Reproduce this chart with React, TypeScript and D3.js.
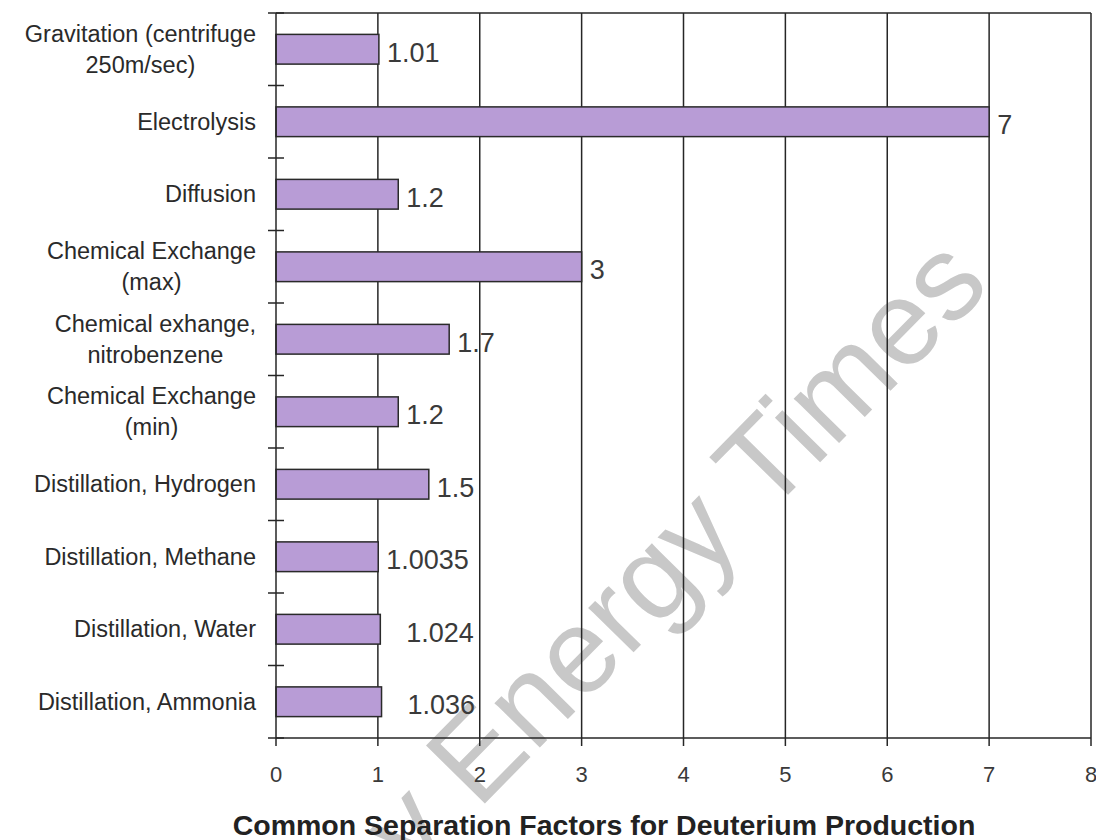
import React, { useEffect, useRef } from "react";
import * as d3 from "d3";

const categories = [
  "Gravitation (centrifuge\n250m/sec)",
  "Electrolysis",
  "Diffusion",
  "Chemical Exchange\n(max)",
  "Chemical exhange,\nnitrobenzene",
  "Chemical Exchange\n(min)",
  "Distillation, Hydrogen",
  "Distillation, Methane",
  "Distillation, Water",
  "Distillation, Ammonia",
];
const values = [1.01, 7, 1.2, 3, 1.7, 1.2, 1.5, 1.0035, 1.024, 1.036];
const valueLabels = ["1.01", "7", "1.2", "3", "1.7", "1.2", "1.5", "1.0035", "1.024", "1.036"];
const xTicks = [0, 1, 2, 3, 4, 5, 6, 7, 8];
const titleText = "Common Separation Factors for Deuterium Production";
const watermarkText = "by Energy Times";

// extra horizontal offset of some value labels (layout only)
const labelExtraShift = [0, 0, 0, 0, 0, 0, 0, 0, 18, 18];

const W = 1096;
const H = 840;
const FONT = "'Liberation Sans', Arial, sans-serif";

export default function App() {
  const ref = useRef<SVGSVGElement | null>(null);

  useEffect(() => {
    document.body.style.margin = "0";
    const svg = d3.select(ref.current);
    svg.selectAll("*").remove();

    const left = 276, right = 1091, top = 13, bottom = 738;
    const x = d3.scaleLinear().domain([0, 8]).range([left, right]);
    const y = d3
      .scaleBand<string>()
      .domain(categories)
      .range([top, bottom])
      .paddingInner(0.59)
      .paddingOuter(0.295);
    const step = y.step();
    const line = "#262626";

    svg.append("rect").attr("width", W).attr("height", H).attr("fill", "#fff");

    // watermark
    svg
      .append("text")
      .attr("transform", "translate(679,606) rotate(-45.5)")
      .attr("text-anchor", "middle")
      .attr("font-family", FONT)
      .attr("font-size", 120)
      .attr("fill", "#c8c8c8")
      .text(watermarkText);

    // top border
    svg.append("line").attr("x1", left).attr("x2", right).attr("y1", top).attr("y2", top)
      .attr("stroke", line).attr("stroke-width", 1.5);

    // vertical gridlines
    svg.append("g").selectAll("line").data(xTicks.filter((t) => t > 0)).join("line")
      .attr("x1", (d) => x(d)).attr("x2", (d) => x(d))
      .attr("y1", top).attr("y2", bottom)
      .attr("stroke", line).attr("stroke-width", 1.5);

    // bars
    svg.append("g").selectAll("rect").data(categories).join("rect")
      .attr("x", x(0))
      .attr("y", (d) => y(d)!)
      .attr("width", (d, i) => x(values[i]) - x(0))
      .attr("height", y.bandwidth())
      .attr("fill", "#b89cd6")
      .attr("stroke", "#2a2a2a")
      .attr("stroke-width", 1.5);

    // value labels
    svg.append("g").selectAll("text").data(categories).join("text")
      .attr("x", (d, i) => x(values[i]) + 8 + labelExtraShift[i])
      .attr("y", (d) => y(d)! + y.bandwidth() / 2 + 3)
      .attr("dy", "0.35em")
      .attr("font-family", FONT)
      .attr("font-size", 27)
      .attr("fill", "#3a3a3a")
      .text((d, i) => valueLabels[i]);

    // axes
    svg.append("line").attr("x1", left).attr("x2", left).attr("y1", top).attr("y2", bottom)
      .attr("stroke", line).attr("stroke-width", 1.5);
    svg.append("line").attr("x1", left).attr("x2", right).attr("y1", bottom).attr("y2", bottom)
      .attr("stroke", line).attr("stroke-width", 1.5);

    // y ticks at category boundaries
    svg.append("g").selectAll("line").data(d3.range(categories.length + 1)).join("line")
      .attr("x1", left - 8).attr("x2", left + 8)
      .attr("y1", (i) => top + i * step).attr("y2", (i) => top + i * step)
      .attr("stroke", line).attr("stroke-width", 1.5);

    // x ticks
    svg.append("g").selectAll("line").data(xTicks).join("line")
      .attr("x1", (d) => x(d)).attr("x2", (d) => x(d))
      .attr("y1", bottom).attr("y2", bottom + 8)
      .attr("stroke", line).attr("stroke-width", 1.5);

    // x tick labels
    svg.append("g").selectAll("text").data(xTicks).join("text")
      .attr("x", (d) => x(d))
      .attr("y", bottom + 36)
      .attr("dy", "0.35em")
      .attr("text-anchor", "middle")
      .attr("font-family", FONT)
      .attr("font-size", 22)
      .attr("fill", "#3a3a3a")
      .text((d) => String(d));

    // category labels
    const labelRight = 256;
    const lineGap = 31;
    categories.forEach((c) => {
      const lines = c.split("\n");
      const cy = y(c)! + y.bandwidth() / 2;
      const g = svg.append("g");
      const texts = lines.map((ln, k) =>
        g.append("text")
          .attr("y", cy + (k - (lines.length - 1) / 2) * lineGap)
          .attr("dy", "0.35em")
          .attr("font-family", FONT)
          .attr("font-size", 23.5)
          .attr("fill", "#2a2a2a")
          .text(ln)
      );
      const widths = texts.map((t) => (t.node() as SVGTextElement).getComputedTextLength());
      const maxW = Math.max(...widths);
      texts.forEach((t) => {
        t.attr("x", labelRight - maxW / 2).attr("text-anchor", "middle");
      });
    });

    // title
    svg.append("text")
      .attr("x", 604)
      .attr("y", 835)
      .attr("text-anchor", "middle")
      .attr("font-family", FONT)
      .attr("font-weight", "bold")
      .attr("font-size", 28.5)
      .attr("fill", "#222")
      .text(titleText);
  }, []);

  return <svg ref={ref} width={W} height={H} style={{ display: "block" }} />;
}
